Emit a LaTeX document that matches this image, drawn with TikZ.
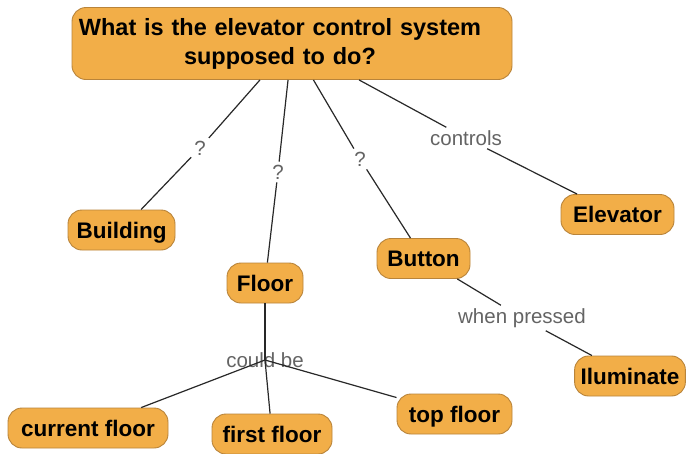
\documentclass[tikz,border=0pt]{standalone}
\usepackage{fontspec}
\setmainfont{Liberation Sans}
\definecolor{conceptfill}{RGB}{242,174,72}
\definecolor{conceptedge}{RGB}{185,132,58}
\definecolor{linkline}{RGB}{40,40,40}
\definecolor{linkgray}{RGB}{100,100,100}
\begin{document}
\begin{tikzpicture}[x=1pt,y=-1pt,
  concept/.style={draw=conceptedge, fill=conceptfill, rounded corners=14pt,
    line width=0.9pt, minimum height=40pt, inner xsep=6pt, inner ysep=0pt,
    text height=20pt, text depth=4pt,
    font=\fontsize{22.5}{26}\selectfont\bfseries, text=black},
  question/.style={draw=conceptedge, fill=conceptfill, rounded corners=14pt,
    line width=0.9pt, minimum height=72pt, inner xsep=8pt, inner ysep=0pt,
    text width=424pt, align=center,
    font=\fontsize{23.5}{29}\selectfont\bfseries, text=black},
  linkword/.style={inner sep=3pt, text=linkgray,
    font=\fontsize{20.5}{24}\selectfont},
  link/.style={draw=linkline, line width=1.2pt}]

% canvas
\useasboundingbox[fill=white] (0,0) rectangle (688,453);

% concepts
\node[question] (q) at (292,43.5)
  {\hspace*{-24pt}What is the elevator control system\\\hspace*{-24pt}supposed to do?};
\node[concept, minimum width=107pt] (building) at (121.5,230) {Building};
\node[concept, minimum width=76pt]  (floor)    at (265,283)   {Floor};
\node[concept, minimum width=93pt]  (button)   at (423.5,258.5) {Button};
\node[concept, minimum width=113pt] (elevator) at (617.5,214.5) {Elevator};
\node[concept, minimum width=110pt] (illum)    at (630,376)   {Iluminate};
\node[concept, minimum width=160pt] (current)  at (88,428)    {current floor};
\node[concept, minimum width=120pt] (first)    at (272,434)   {first floor};
\node[concept, minimum width=115pt] (top)      at (454.5,414) {top floor};

% linking words
\node[linkword] (qa) at (200,148) {?};
\node[linkword] (qb) at (278,172) {?};
\node[linkword] (qc) at (360,159) {?};
\node[linkword] (ctl) at (466,138) {controls};
\node[linkword] (wp)  at (522,318) {when pressed};
\node[linkword] (cb)  at (265,360) {could be};

% connectors through the linking words
\draw[link] (q) -- (qa);   \draw[link] (qa) -- (building);
\draw[link] (q) -- (qb);   \draw[link] (qb) -- (floor);
\draw[link] (q) -- (qc);   \draw[link] (qc) -- (button);
\draw[link] (q) -- (ctl);  \draw[link] (ctl) -- (elevator);
\draw[link] (button) -- (wp); \draw[link] (wp) -- (illum);

% branching link runs through its own label
\draw[link] (floor) -- (cb.center);
\draw[link] (cb.center) -- (current);
\draw[link] (cb.center) -- (first);
\draw[link] (cb.center) -- (top);
\end{tikzpicture}
\end{document}
